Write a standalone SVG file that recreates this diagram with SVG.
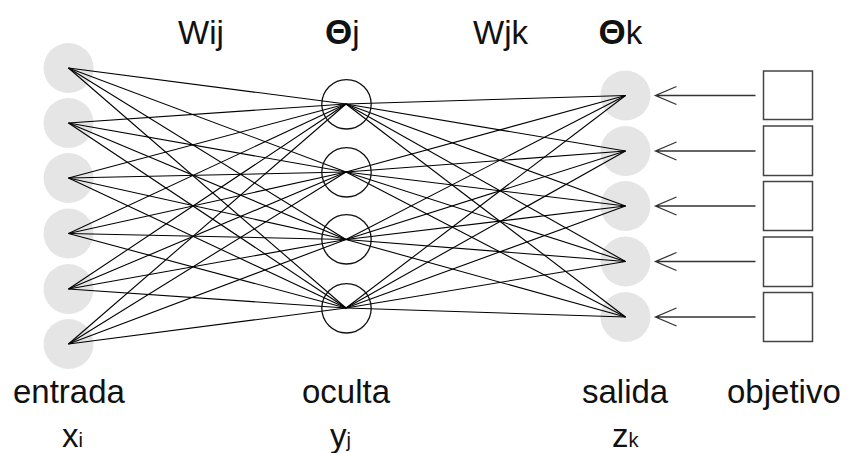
<svg xmlns="http://www.w3.org/2000/svg" width="849" height="453" viewBox="0 0 849 453">
<style>
.in{fill:#e5e5e5;stroke:none}
.hid{fill:none;stroke:#111;stroke-width:1.3}
.e line{stroke:#000;stroke-width:1.1}
.arr{stroke:#333;stroke-width:1.3;fill:none}
.tgt{fill:#fff;stroke:#444;stroke-width:1.5}
text{font-family:"Liberation Sans",Arial,sans-serif;fill:#111}
.lbl{font-size:33px}
.sub{font-size:20px}
.th{font-weight:bold;font-size:35px}
</style>
<rect width="849" height="453" fill="#fff"/>
<g id="input-nodes">
<circle id="x1" class="in" cx="68.5" cy="68" r="25"/>
<circle id="x2" class="in" cx="68.5" cy="123" r="25"/>
<circle id="x3" class="in" cx="68.5" cy="178" r="25"/>
<circle id="x4" class="in" cx="68.5" cy="233.5" r="25"/>
<circle id="x5" class="in" cx="68.5" cy="289" r="25"/>
<circle id="x6" class="in" cx="68.5" cy="344" r="25"/>
</g>
<g id="output-nodes">
<circle id="z1" class="in" cx="625.5" cy="95.5" r="25"/>
<circle id="z2" class="in" cx="625.5" cy="151" r="25"/>
<circle id="z3" class="in" cx="625.5" cy="206" r="25"/>
<circle id="z4" class="in" cx="625.5" cy="261.5" r="25"/>
<circle id="z5" class="in" cx="625.5" cy="317" r="25"/>
</g>
<g id="connectors" class="e">
<line x1="68.5" y1="68" x2="346" y2="104"/><line x1="68.5" y1="68" x2="346" y2="172"/><line x1="68.5" y1="68" x2="346" y2="239.5"/><line x1="68.5" y1="68" x2="346" y2="308"/>
<line x1="68.5" y1="123" x2="346" y2="104"/><line x1="68.5" y1="123" x2="346" y2="172"/><line x1="68.5" y1="123" x2="346" y2="239.5"/><line x1="68.5" y1="123" x2="346" y2="308"/>
<line x1="68.5" y1="178" x2="346" y2="104"/><line x1="68.5" y1="178" x2="346" y2="172"/><line x1="68.5" y1="178" x2="346" y2="239.5"/><line x1="68.5" y1="178" x2="346" y2="308"/>
<line x1="68.5" y1="233.5" x2="346" y2="104"/><line x1="68.5" y1="233.5" x2="346" y2="172"/><line x1="68.5" y1="233.5" x2="346" y2="239.5"/><line x1="68.5" y1="233.5" x2="346" y2="308"/>
<line x1="68.5" y1="289" x2="346" y2="104"/><line x1="68.5" y1="289" x2="346" y2="172"/><line x1="68.5" y1="289" x2="346" y2="239.5"/><line x1="68.5" y1="289" x2="346" y2="308"/>
<line x1="68.5" y1="344" x2="346" y2="104"/><line x1="68.5" y1="344" x2="346" y2="172"/><line x1="68.5" y1="344" x2="346" y2="239.5"/><line x1="68.5" y1="344" x2="346" y2="308"/>
<line x1="346" y1="104" x2="625.5" y2="95.5"/><line x1="346" y1="104" x2="625.5" y2="151"/><line x1="346" y1="104" x2="625.5" y2="206"/><line x1="346" y1="104" x2="625.5" y2="261.5"/><line x1="346" y1="104" x2="625.5" y2="317"/>
<line x1="346" y1="172" x2="625.5" y2="95.5"/><line x1="346" y1="172" x2="625.5" y2="151"/><line x1="346" y1="172" x2="625.5" y2="206"/><line x1="346" y1="172" x2="625.5" y2="261.5"/><line x1="346" y1="172" x2="625.5" y2="317"/>
<line x1="346" y1="239.5" x2="625.5" y2="95.5"/><line x1="346" y1="239.5" x2="625.5" y2="151"/><line x1="346" y1="239.5" x2="625.5" y2="206"/><line x1="346" y1="239.5" x2="625.5" y2="261.5"/><line x1="346" y1="239.5" x2="625.5" y2="317"/>
<line x1="346" y1="308" x2="625.5" y2="95.5"/><line x1="346" y1="308" x2="625.5" y2="151"/><line x1="346" y1="308" x2="625.5" y2="206"/><line x1="346" y1="308" x2="625.5" y2="261.5"/><line x1="346" y1="308" x2="625.5" y2="317"/>
</g>
<g id="hidden-nodes">
<circle id="y1" class="hid" cx="346.5" cy="104.3" r="24.7"/>
<circle id="y2" class="hid" cx="346.5" cy="172.3" r="24.7"/>
<circle id="y3" class="hid" cx="346.5" cy="239.3" r="24.7"/>
<circle id="y4" class="hid" cx="346.5" cy="308.3" r="24.7"/>
</g>
<g id="target-arrows">
<g id="a1"><path class="arr" d="M755.5 95.5H655.5M676.5 86.5L655.5 95.5L676.5 104.5"/></g>
<g id="a2"><path class="arr" d="M755.5 151H655.5M676.5 142L655.5 151L676.5 160"/></g>
<g id="a3"><path class="arr" d="M755.5 206H655.5M676.5 197L655.5 206L676.5 215"/></g>
<g id="a4"><path class="arr" d="M755.5 261.5H655.5M676.5 252.5L655.5 261.5L676.5 270.5"/></g>
<g id="a5"><path class="arr" d="M755.5 317H655.5M676.5 308L655.5 317L676.5 326"/></g>
</g>
<g id="targets">
<rect id="t1" class="tgt" x="763.5" y="71" width="49" height="48.5"/>
<rect id="t2" class="tgt" x="763.5" y="126" width="49" height="49.5"/>
<rect id="t3" class="tgt" x="763.5" y="181.5" width="49" height="49"/>
<rect id="t4" class="tgt" x="763.5" y="237" width="49" height="49.5"/>
<rect id="t5" class="tgt" x="763.5" y="292.5" width="49" height="49"/>
</g>
<g id="labels">
<text class="lbl" x="325" y="44"><tspan class="th">Θ</tspan>j</text>
<text class="lbl" x="178" y="44">Wij</text>
<text class="lbl" x="473" y="44">Wjk</text>
<text class="lbl" x="598.5" y="44"><tspan class="th">Θ</tspan>k</text>
<text class="lbl" x="13" y="403">entrada</text>
<text class="lbl" x="302" y="403">oculta</text>
<text class="lbl" x="582" y="403">salida</text>
<text class="lbl" x="727" y="403">objetivo</text>
<text class="lbl" x="62" y="447">x<tspan class="sub">i</tspan></text>
<text class="lbl" x="330" y="447">y<tspan class="sub">j</tspan></text>
<text class="lbl" x="612" y="447">z<tspan class="sub">k</tspan></text>
</g>
</svg>
